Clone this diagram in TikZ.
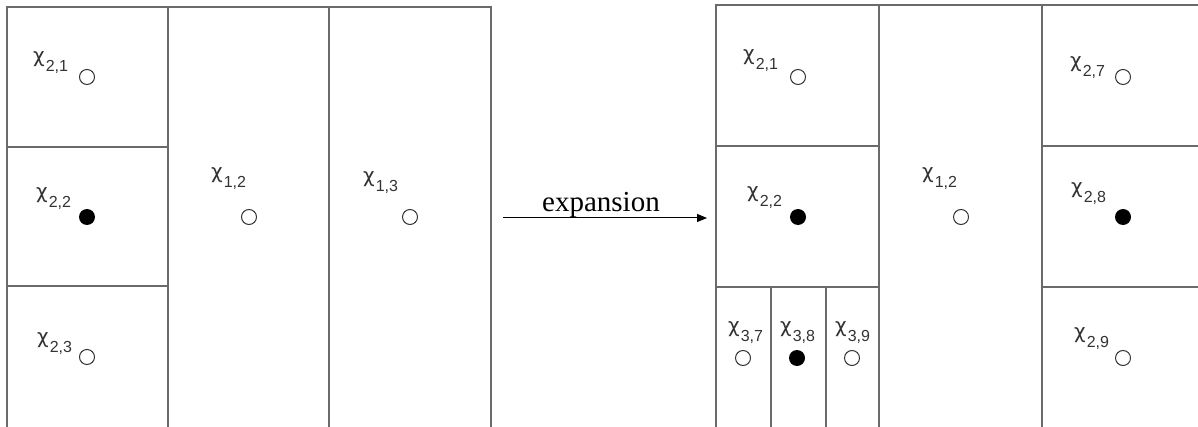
\documentclass[tikz,border=0pt]{standalone}
\usepackage{fontspec}
\setmainfont{Liberation Serif}
\newfontfamily\labfont{Liberation Sans}
\newfontfamily\chifont{DejaVu Sans}
\usepackage{xcolor}
\usetikzlibrary{arrows.meta,positioning}
\definecolor{gridgray}{HTML}{6A6A6A}
\definecolor{labgray}{HTML}{333333}
\newcommand{\chisub}[1]{{\chifont\fontsize{20}{20}\selectfont χ}\hspace{1pt}\raisebox{-9pt}{\labfont\fontsize{16}{16}\selectfont #1}}

\begin{document}
\begin{tikzpicture}[
  x=1pt, y=-1pt,
  wall/.style={draw=gridgray, line width=1.3pt},
  lbl/.style={anchor=base west, inner sep=0pt, text=labgray},
  opendot/.style={circle, draw=black!80, line width=1pt, fill=white,
                  minimum size=15pt, inner sep=0pt},
  fulldot/.style={circle, fill=black, minimum size=16pt, inner sep=0pt},
  arrow/.style={-{Triangle[length=10pt,width=8pt]}, line width=1pt, black},
]
\useasboundingbox (0,0) rectangle (1198,427);

% Left panel
\draw[wall] (7,427) -- (7,7) -- (491,7) -- (491,427);
\draw[wall] (168,7) -- (168,427);
\draw[wall] (329,7) -- (329,427);
\draw[wall] (7,147) -- (168,147);
\draw[wall] (7,286) -- (168,286);

% Right panel
\draw[wall] (716,427) -- (716,5) -- (1198,5);
\draw[wall] (879,5) -- (879,427);
\draw[wall] (1042,5) -- (1042,427);
\draw[wall] (716,146) -- (879,146);
\draw[wall] (716,287) -- (879,287);
\draw[wall] (1042,146) -- (1198,146);
\draw[wall] (1042,287) -- (1198,287);
\draw[wall] (771,287) -- (771,427);
\draw[wall] (826,287) -- (826,427);

% labels
\foreach \n/\x/\y/\s in {la/33/63/{2,1}, lb/36/199/{2,2}, lc/37/343/{2,3},
    ld/211/179/{1,2}, le/363/183/{1,3},
    ra/743/61/{2,1}, rb/747/198/{2,2}, rc/922/179/{1,2},
    rd/1070/68/{2,7}, re/1071/194/{2,8}, rf/1074/338/{2,9},
    rg/728/332/{3,7}, rh/780/332/{3,8}, ri/835/332/{3,9}}
  \node[lbl] (\n) at (\x,\y) {\chisub{\s}};

% points
\foreach \n/\x/\y in {pa/87/77, pc/87/357, pd/249/217, pe/410/217,
    qa/798/77, qc/961/217, qd/1123/77, qf/1123/358, qg/743/358, qi/852/358}
  \node[opendot] (\n) at (\x,\y) {};
\foreach \n/\x/\y in {pb/87/217, qb/798/217, qe/1123/217, qh/797/358}
  \node[fulldot] (\n) at (\x,\y) {};

% expansion arrow
\coordinate (expS) at (503,218);
\coordinate (expE) at (707,218);
\draw[arrow] (expS) -- (expE);
\node[anchor=base, inner sep=0pt, font=\fontsize{29}{29}\selectfont] (expLbl) at (601,212) {expansion};

\end{tikzpicture}
\end{document}
